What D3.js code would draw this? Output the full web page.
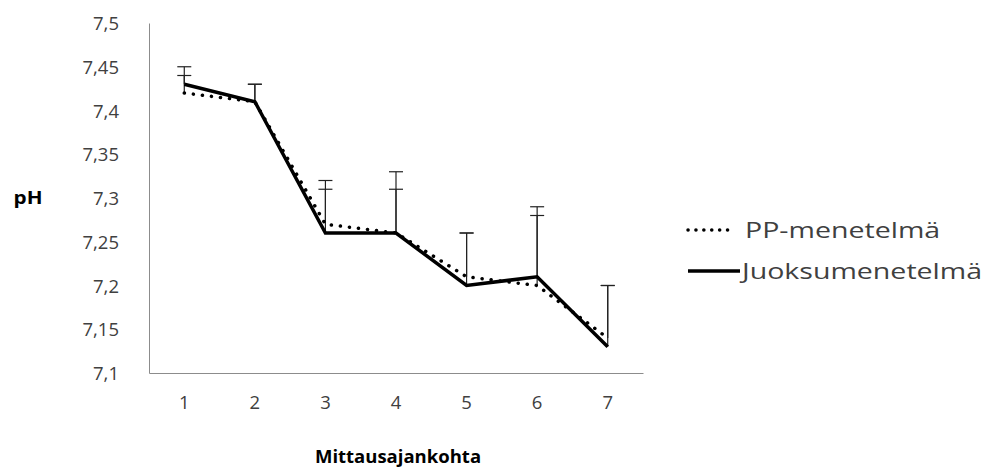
<!DOCTYPE html>
<html><head><meta charset="utf-8">
<script src="https://cdn.jsdelivr.net/npm/d3@7"></script>
<style>html,body{margin:0;padding:0;background:#fff;}svg{display:block;}</style>
</head><body><svg id="c" width="990" height="468"></svg>
<script>
const categories = ["1","2","3","4","5","6","7"];
const yTicks = [7.1,7.15,7.2,7.25,7.3,7.35,7.4,7.45,7.5];
const seriesNames = ["PP-menetelmä","Juoksumenetelmä"];
const ppValues = [7.42,7.41,7.27,7.26,7.21,7.20,7.14];
const ppErrPlus = [0.02,0.02,0.04,0.05,0.05,0.08,0.06];
const juoksuValues = [7.43,7.41,7.26,7.26,7.20,7.21,7.13];
const juoksuErrPlus = [0.02,0.02,0.06,0.07,0.06,0.08,0.07];
const yTitle = "pH";
const xTitle = "Mittausajankohta";

const svg = d3.select("#c");
const L=149,R=643,T=23,B=373;
const font = "'Open Sans', sans-serif";
const x = d3.scaleBand().domain(categories).range([L,R]);
const y = d3.scaleLinear().domain([7.1,7.5]).range([B,T]);
const cx = c => x(c)+x.bandwidth()/2;
const fmt = v => d3.format(".2~f")(v).replace(".",",");

// axes
const ya = d3.axisLeft(y).tickValues(yTicks).tickFormat(fmt).tickSize(0).tickPadding(30);
const gy = svg.append("g").attr("transform",`translate(${L},0)`).call(ya);
gy.select(".domain").attr("stroke","#8c8c8c");
gy.selectAll("text").attr("font-family",font).attr("font-size",18.5).attr("fill","#404040").attr("dy","0.36em");
const xa = d3.axisBottom(x).tickSize(0).tickPadding(23);
const gx = svg.append("g").attr("transform",`translate(0,${B})`).call(xa);
gx.select(".domain").attr("stroke","#8c8c8c");
gx.selectAll("text").attr("font-family",font).attr("font-size",18.5).attr("fill","#404040");

svg.append("text").attr("transform",`translate(28,${y(7.3)}) scale(1.15,1)`).attr("dy","0.36em").attr("text-anchor","middle")
  .attr("font-family",font).attr("font-weight","bold").attr("font-size",18).attr("fill","#000").text(yTitle);
svg.append("text").attr("x",(L+R)/2 + 2).attr("y",463).attr("text-anchor","middle")
  .attr("font-family",font).attr("font-weight","bold").attr("font-size",18.5).attr("fill","#000").text(xTitle);

// error bars
function errBars(vals, errs){
  const g = svg.append("g").attr("stroke","#222").attr("stroke-width",1.2);
  categories.forEach((c,i)=>{
    const px = cx(c), y0=y(vals[i]), y1=y(vals[i]+errs[i]);
    g.append("line").attr("x1",px).attr("x2",px).attr("y1",y0).attr("y2",y1);
    g.append("line").attr("x1",px-7).attr("x2",px+7).attr("y1",y1).attr("y2",y1);
  });
}
errBars(ppValues, ppErrPlus);
errBars(juoksuValues, juoksuErrPlus);

const line = d3.line().x((d,i)=>cx(categories[i])).y(d=>y(d));
svg.append("path").datum(ppValues).attr("d",line).attr("fill","none").attr("stroke","#000")
  .attr("stroke-width",3.5).attr("stroke-linecap","round").attr("stroke-dasharray","0.1 9");
svg.append("path").datum(juoksuValues).attr("d",line).attr("fill","none").attr("stroke","#000")
  .attr("stroke-width",3.5).attr("stroke-linejoin","miter");

// legend
const lg = svg.append("g");
const legY = [230,271];
seriesNames.forEach((n,i)=>{
  const ln = lg.append("line").attr("x1",688).attr("x2",i===0?735:740).attr("y1",legY[i]).attr("y2",legY[i])
    .attr("stroke","#000").attr("stroke-width",3.5);
  if(i===0) ln.attr("stroke-linecap","round").attr("stroke-dasharray","0.1 7.8");
  lg.append("text").attr("transform",`translate(${i===0?745:742},${legY[i]}) scale(1.36,1)`).attr("dy","0.36em")
    .attr("font-family",font).attr("font-size",21).attr("fill","#404040").text(n);
});
</script></body></html>
